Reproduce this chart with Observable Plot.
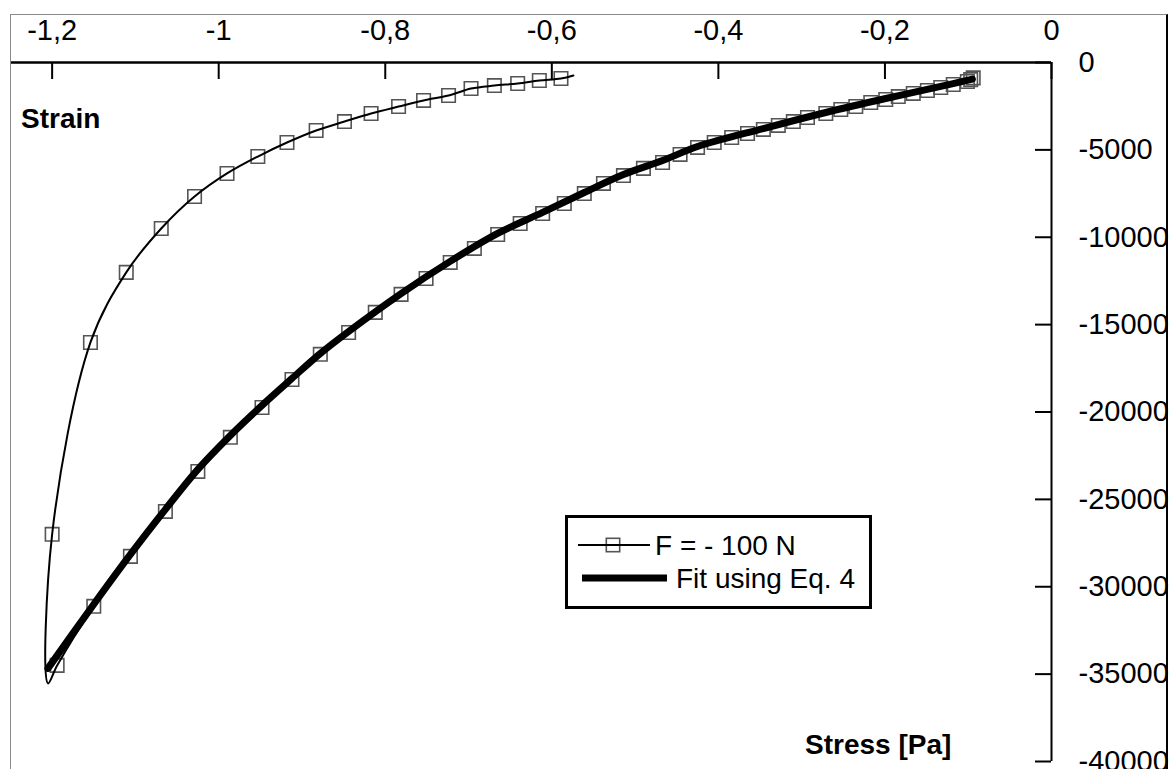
<!DOCTYPE html>
<html><head><meta charset="utf-8">
<script src="https://cdn.jsdelivr.net/npm/d3@7"></script>
<script src="https://cdn.jsdelivr.net/npm/@observablehq/plot@0.6"></script>
<style>
html,body{margin:0;padding:0;background:#fff;overflow:hidden;}
#wrap{position:relative;width:1170px;height:769px;}
#wrap svg{position:absolute;left:0;top:0;}
#frame{position:absolute;left:10px;top:14px;width:1155px;height:800px;border-top:1.5px solid #8a8a8a;border-left:1.5px solid #8a8a8a;border-right:2px solid #000;pointer-events:none;}
</style></head><body><div id="wrap"><div id="frame"></div></div>
<script>
// Tick values
const xTicks = [-1.2, -1, -0.8, -0.6, -0.4, -0.2, 0];
const yTicks = [0, -5000, -10000, -15000, -20000, -25000, -30000, -35000, -40000];

// Measured data F = -100 N : loading branch
const loadStress = [-0.094,-0.097,-0.101,-0.118,-0.133,-0.149,-0.166,-0.184,-0.199,-0.217,-0.235,-0.253,-0.271,-0.293,-0.310,-0.328,-0.346,-0.365,-0.384,-0.405,-0.425,-0.446,-0.467,-0.490,-0.514,-0.538,-0.561,-0.585,-0.611,-0.638,-0.665,-0.693,-0.722,-0.751,-0.781,-0.812,-0.844,-0.878,-0.912,-0.948,-0.986,-1.025,-1.064,-1.106,-1.150,-1.194];
const loadStrain = [-880,-980,-1090,-1260,-1430,-1600,-1770,-1950,-2120,-2290,-2520,-2690,-2920,-3150,-3380,-3600,-3830,-4060,-4290,-4580,-4860,-5260,-5720,-6060,-6470,-6920,-7500,-8070,-8640,-9210,-9840,-10640,-11440,-12360,-13270,-14300,-15450,-16700,-18140,-19740,-21450,-23400,-25690,-28260,-31120,-34500];
// turning point (no marker)
const tipStress = [-1.205];
const tipStrain = [-35530];
// unloading branch
const unloadStress = [-1.200,-1.154,-1.111,-1.069,-1.029,-0.990,-0.953,-0.918,-0.883,-0.849,-0.817,-0.784,-0.754,-0.724,-0.697,-0.669,-0.641,-0.615,-0.589];
const unloadStrain = [-27000,-16020,-12010,-9500,-7670,-6350,-5380,-4580,-3890,-3380,-2920,-2520,-2170,-1890,-1490,-1320,-1200,-1030,-915];
// line end (no marker)
const endStress = [-0.574];
const endStrain = [-740];

// Fit using Eq. 4
const fitStress = [-1.205,-1.150,-1.106,-1.064,-1.025,-0.986,-0.948,-0.912,-0.878,-0.844,-0.781,-0.722,-0.665,-0.611,-0.561,-0.514,-0.467,-0.425,-0.346,-0.271,-0.199,-0.133,-0.095];
const fitStrain = [-34670,-31000,-28150,-25570,-23280,-21340,-19620,-18080,-16650,-15390,-13220,-11380,-9780,-8580,-7440,-6410,-5610,-4810,-3780,-2860,-2060,-1370,-950];

const zip = (xs, ys) => xs.map((x, i) => ({x, y: ys[i]}));
const load = zip(loadStress, loadStrain);
const unload = zip(unloadStress, unloadStrain);
const measuredLine = [...load, ...zip(tipStress, tipStrain), ...unload, ...zip(endStress, endStrain)];
const measuredMarkers = [...load, ...unload];
const fit = zip(fitStress, fitStrain);

const fmt = d => d === 0 ? "0" : String(d).replace(".", ",");
const FONT = "'Liberation Sans', Arial, Helvetica, sans-serif";

const W = 1170, H = 769, mL = 10, mR = 119, mT = 62, mB = 8;

const chart = Plot.plot({
  width: W, height: H,
  marginLeft: mL, marginRight: mR, marginTop: mT, marginBottom: mB,
  style: {fontFamily: FONT, fontSize: "29px", color: "#000", background: "transparent", overflow: "visible"},
  x: {domain: [-1.25, 0], label: null},
  y: {domain: [-40000, 0], label: null},
  marks: [
    Plot.axisX(xTicks, {anchor: "top", tickSize: 0, tickPadding: 23, tickFormat: fmt, label: null, fontSize: 29}),
    Plot.axisY(yTicks, {anchor: "right", tickSize: 0, tickPadding: 27, tickFormat: fmt, label: null, fontSize: 29}),
    Plot.tickX(xTicks, {x: d => d, insetBottom: H - mT - mB - 17, stroke: "#000", strokeWidth: 2}),
    Plot.tickY(yTicks, {y: d => d, insetLeft: W - mL - mR - 16, stroke: "#000", strokeWidth: 2}),
    Plot.ruleY([0], {stroke: "#000", strokeWidth: 2.5}),
    Plot.ruleX([0], {stroke: "#000", strokeWidth: 2}),
    Plot.dot(measuredMarkers, {x: "x", y: "y", symbol: "square", r: 7.6, fill: "none", stroke: "#555", strokeWidth: 1.6}),
    Plot.line(measuredLine, {x: "x", y: "y", curve: "catmull-rom", stroke: "#000", strokeWidth: 2}),
    Plot.line(fit, {x: "x", y: "y", curve: "catmull-rom", stroke: "#000", strokeWidth: 7})
  ]
});

document.getElementById("wrap").insertBefore(chart, document.getElementById("frame"));

const svg = d3.select(chart);
const txt = (g, x, y, s, bold) => g.append("text").attr("x", x).attr("y", y)
  .attr("text-anchor", "start").attr("font-family", FONT).attr("font-size", 28)
  .attr("font-weight", bold ? "bold" : "normal").attr("fill", "#000").text(s);
// Axis titles
txt(svg, 21, 128, "Strain", true);
txt(svg, 805, 754, "Stress [Pa]", true);

// Legend
const lg = svg.append("g");
lg.append("rect").attr("x", 566.5).attr("y", 516.5).attr("width", 304).attr("height", 91)
  .attr("fill", "#fff").attr("stroke", "#000").attr("stroke-width", 3);
lg.append("rect").attr("x", 613 - 6.7).attr("y", 545 - 6.7).attr("width", 13.4).attr("height", 13.4)
  .attr("fill", "none").attr("stroke", "#555").attr("stroke-width", 1.6);
lg.append("line").attr("x1", 578).attr("x2", 650).attr("y1", 545).attr("y2", 545)
  .attr("stroke", "#000").attr("stroke-width", 2);
txt(lg, 655, 555, "F = - 100 N", false);
lg.append("line").attr("x1", 582).attr("x2", 667).attr("y1", 578).attr("y2", 578)
  .attr("stroke", "#000").attr("stroke-width", 7);
txt(lg, 676, 588, "Fit using Eq. 4", false);
</script>
</body></html>
